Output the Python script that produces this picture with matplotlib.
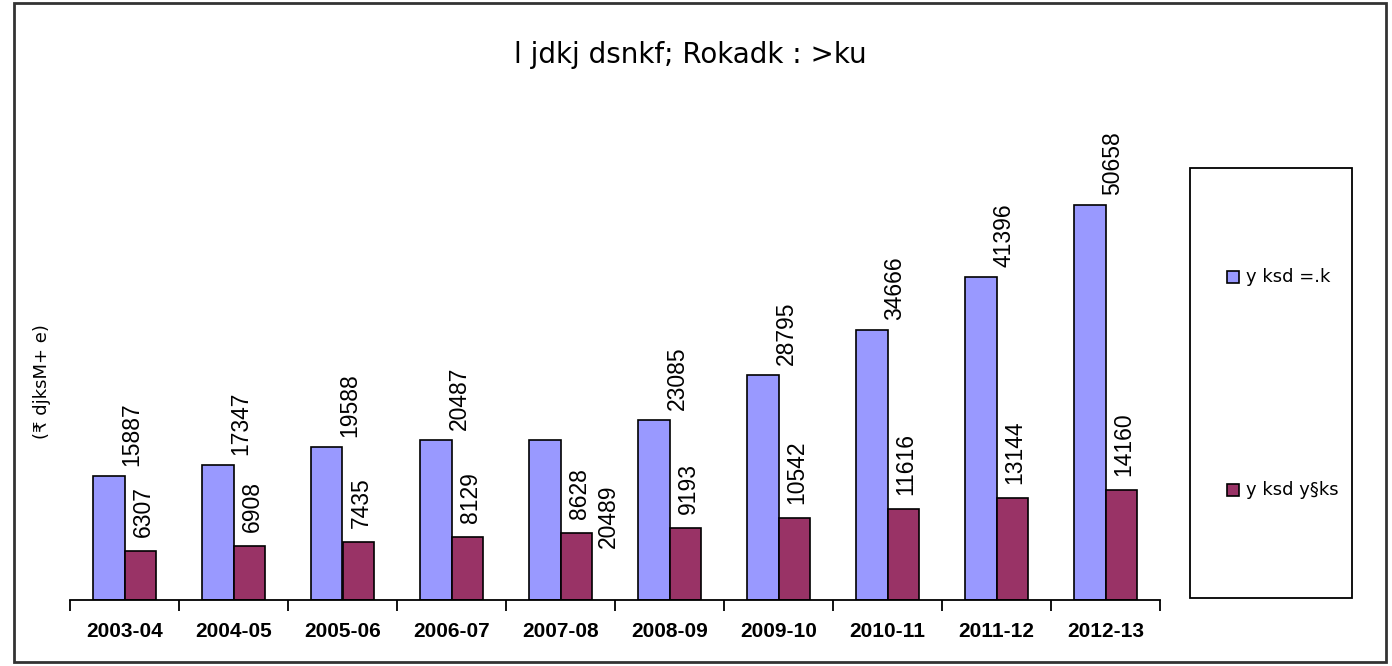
import numpy as np
import matplotlib
matplotlib.use("Agg")
import matplotlib.pyplot as plt
from matplotlib.patches import Rectangle

years = ["2003-04", "2004-05", "2005-06", "2006-07", "2007-08",
         "2008-09", "2009-10", "2010-11", "2011-12", "2012-13"]
loan = [15887, 17347, 19588, 20487, 20489, 23085, 28795, 34666, 41396, 50658]
account = [6307, 6908, 7435, 8129, 8628, 9193, 10542, 11616, 13144, 14160]

series_names = ["y ksd =.k", "y ksd y§ks"]
title_text = "l jdkj dsnkf; Rokadk : >ku"
ylabel_text = "(₹ djksM+ e)"

blue = "#9999FF"
plum = "#993366"

fig = plt.figure(figsize=(13.92, 6.66), dpi=100)
fig.patch.set_facecolor("white")

# outer chart frame
fig.add_artist(Rectangle((14 / 1392, 4 / 666), 1372 / 1392, 659 / 666,
                         transform=fig.transFigure, fill=False,
                         edgecolor="#333333", linewidth=2))

ax = fig.add_axes([70 / 1392, 1 - 600 / 666, 1090 / 1392, 460 / 666])
x = np.arange(len(years))
w = 0.285
ax.bar(x - w / 2, loan, w, color=blue, edgecolor="black", linewidth=1.2)
ax.bar(x + w / 2, account, w, color=plum, edgecolor="black", linewidth=1.2)

ax.set_xlim(-0.5, len(years) - 0.5)
ax.set_ylim(0, 59000)
for s in ["top", "right", "left"]:
    ax.spines[s].set_visible(False)
ax.spines["bottom"].set_linewidth(1.3)
ax.set_yticks([])
ax.set_xticks(x)
ax.set_xticklabels(years, fontsize=15, fontweight="bold", family="Liberation Sans")
ax.tick_params(axis="x", which="major", length=0, pad=16)
ax.set_xticks(np.arange(-0.5, len(years)), minor=True)
ax.tick_params(axis="x", which="minor", length=8, width=1.3)

lab_font = dict(fontsize=16.5, family="Liberation Sans", rotation=90,
                ha="center", va="bottom")
for i in range(len(years)):
    if i == 4:
        # this label sits beside the plum bar
        ax.annotate(str(loan[i]), (x[i] + w / 2, account[i]),
                    xytext=(32, -15), textcoords="offset pixels", **lab_font)
    else:
        ax.annotate(str(loan[i]), (x[i] - w / 2, loan[i]),
                    xytext=(23, 10), textcoords="offset pixels", **lab_font)
    ax.annotate(str(account[i]), (x[i] + w / 2, account[i]),
                xytext=(3, 14), textcoords="offset pixels", **lab_font)

fig.text(690 / 1392, 1 - 55 / 666, title_text, fontsize=20,
         family="DejaVu Sans", ha="center", va="center")
fig.text(42 / 1392, 1 - 382 / 666, ylabel_text, fontsize=13,
         family="DejaVu Sans", rotation=90, ha="center", va="center")

# legend box on the right
fig.add_artist(Rectangle((1190 / 1392, 1 - 598 / 666), 162 / 1392, 430 / 666,
                         transform=fig.transFigure, fill=False,
                         edgecolor="black", linewidth=1.3))
for name, col, ypx in zip(series_names, [blue, plum], [277, 490]):
    fig.add_artist(Rectangle((1227 / 1392, 1 - (ypx + 6) / 666), 12 / 1392, 12 / 666,
                             transform=fig.transFigure, facecolor=col,
                             edgecolor="black", linewidth=1.2))
    fig.text(1246 / 1392, 1 - ypx / 666, name, fontsize=13,
             family="DejaVu Sans", ha="left", va="center")

fig.savefig("out.png", dpi=100, facecolor="white")
